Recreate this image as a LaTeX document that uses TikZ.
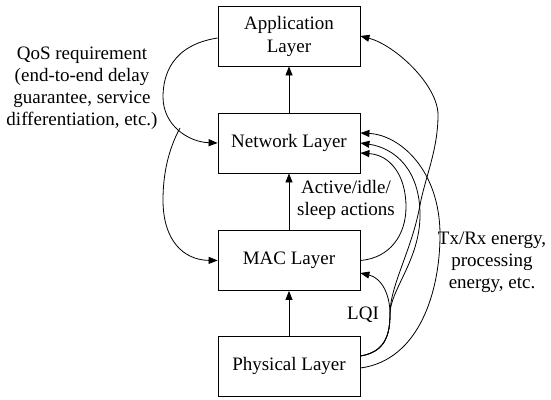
\documentclass[tikz,border=0pt]{standalone}
\usepackage{fontspec}
\setmainfont{Liberation Serif}
\newfontfamily\tms{Liberation Serif}
\usetikzlibrary{arrows.meta}
\begin{document}
\begin{tikzpicture}[x=1pt,y=-1pt,
  layer/.style={draw, line width=0.8pt, minimum width=142pt, minimum height=60pt, inner sep=0pt, align=center, font=\tms\fontsize{19}{23}\selectfont},
  lbl/.style={align=center, font=\tms\fontsize{19}{22}\selectfont, inner sep=0pt},
  arr/.style={line width=0.8pt, -{Triangle[length=9pt,width=7pt]}}]
\useasboundingbox (0,0) rectangle (551,399);
\node[layer] (app) at (289,36) {Application\\Layer};
\node[layer] (net) at (289,143) {Network Layer};
\node[layer] (mac) at (289,260.5) {MAC Layer};
\node[layer] (phys) at (289,366) {Physical Layer};
\node[lbl] (qos) at (82,88) {QoS requirement\\(end-to-end delay\\guarantee, service\\differentiation, etc.)};
\node[lbl] (act) at (346,200) {Active/idle/\\sleep actions};
\node[lbl] (tx) at (492,262) {Tx/Rx energy,\\processing\\energy, etc.};
\node[lbl] (lqi) at (363,315) {LQI};
\coordinate (qosend) at (180,128);
% vertical arrows
\draw[arr] (net) -- (app);
\draw[arr] (mac) -- (net);
\draw[arr] (phys) -- (mac);
% left curves
\draw[arr] ([yshift=-2pt]app.west) .. controls (172,45) and (163,75) .. (163,97) .. controls (163,125) and (188,142) .. (net.west);
\draw[arr] (qosend) .. controls (168,150) and (163,175) .. (163,200) .. controls (163,240) and (183,260) .. (mac.west);
% right curves
\draw[arr] (mac.east) .. controls (390,258) and (406,235) .. (406,207) .. controls (406,175) and (390,155) .. ([yshift=-10pt]net.east);
\draw[arr] ([yshift=10pt]phys.east) .. controls (385,352) and (390,335) .. (390,314) .. controls (390,295) and (382,278) .. ([yshift=-12.5pt]mac.east);
\draw[arr] ([yshift=10pt]phys.east) .. controls (385,352) and (390,335) .. (390,314) .. controls (390,290) and (420,260) .. (420,215) .. controls (420,170) and (395,148) .. (net.east);
\draw[arr] ([yshift=-2pt]phys.east) .. controls (420,360) and (440,290) .. (440,235) .. controls (440,170) and (400,135) .. ([yshift=10pt]net.east);
\draw[arr] ([yshift=10pt]phys.east) .. controls (385,352) and (390,335) .. (390,314) .. controls (390,285) and (412,250) .. (420,205) .. controls (425,178) and (438,150) .. (438,115) .. controls (438,85) and (395,45) .. (app.east);
\end{tikzpicture}
\end{document}
